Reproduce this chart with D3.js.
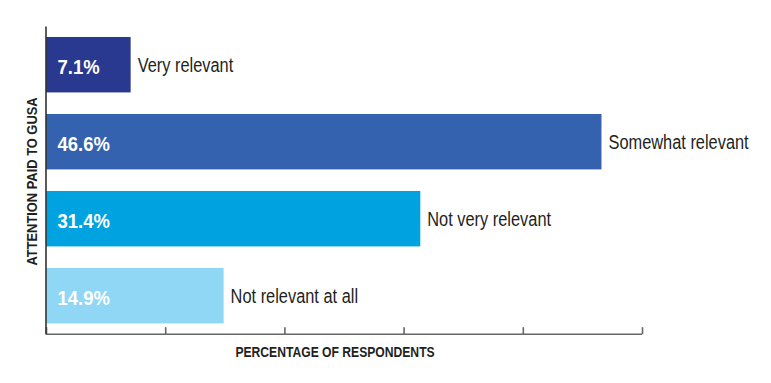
<!DOCTYPE html>
<html><head><meta charset="utf-8">
<script src="https://cdn.jsdelivr.net/npm/d3@7"></script>
<style>
html,body{margin:0;padding:0;background:#fff;}
svg{display:block;}
text{font-family:"Liberation Sans Narrow","Liberation Sans",Arial,sans-serif;}
</style></head>
<body>
<script>
const categories = ["Very relevant","Somewhat relevant","Not very relevant","Not relevant at all"];
const values = [7.1, 46.6, 31.4, 14.9];
const valueLabels = ["7.1%","46.6%","31.4%","14.9%"];
const colors = ["#2a3990","#3462ae","#00a3e0","#90d7f5"];
const xTicks = [0,10,20,30,40,50];
const xTitle = "PERCENTAGE OF RESPONDENTS";
const yTitle = "ATTENTION PAID TO GUSA";

const W = 771, H = 383;
const svg = d3.select("body").append("svg").attr("width",W).attr("height",H);

const axisY = 334.2;
const x = d3.scaleLinear().domain([0,50]).range([46,642]);
const y = d3.scaleBand().domain(categories).range([26.2,axisY]).paddingInner(0.28).paddingOuter(0.14);

// helper: condensed text via horizontal scale
function cond(sel, px, py, sx, rot) {
  sel.attr("x",0).attr("y",0)
     .attr("transform",`translate(${px},${py})${rot?` rotate(${rot})`:""} scale(${sx},1)`);
}

// bars
svg.selectAll("rect.bar").data(values).join("rect")
  .attr("class","bar")
  .attr("x", x(0))
  .attr("y",(d,i)=>y(categories[i]))
  .attr("width",d=>x(d)-x(0))
  .attr("height",y.bandwidth())
  .attr("fill",(d,i)=>colors[i]);

// value labels
svg.selectAll("text.val").data(values).join("text")
  .attr("class","val")
  .attr("fill","#fff")
  .attr("font-weight","bold")
  .attr("font-size",20.5)
  .attr("dy","0.45em")
  .text((d,i)=>valueLabels[i])
  .each(function(d,i){ cond(d3.select(this), x(0)+11.5, y(categories[i])+y.bandwidth()/2, 0.9); });

// category labels
svg.selectAll("text.cat").data(values).join("text")
  .attr("class","cat")
  .attr("fill","#231f20")
  .attr("font-size",21)
  .attr("dy","0.36em")
  .text((d,i)=>categories[i])
  .each(function(d,i){ cond(d3.select(this), x(d)+7, y(categories[i])+y.bandwidth()/2, 0.78); });

// x axis
const xAxis = d3.axisBottom(x).tickValues(xTicks).tickSize(-7).tickFormat("");
const gx = svg.append("g").attr("transform",`translate(0,${axisY})`).call(xAxis);
gx.select(".domain").attr("stroke","#666").attr("stroke-width",1.6).attr("d",`M${x(0)},0H${x(50)}`);
gx.selectAll(".tick line").attr("stroke","#666").attr("stroke-width",1.6);

// y axis line
const yAxis = d3.axisLeft(y).tickSize(0).tickFormat("");
const gy = svg.append("g").attr("transform",`translate(${x(0)},0)`).call(yAxis);
gy.select(".domain").attr("stroke","#333").attr("stroke-width",1.6).attr("d",`M0,26.5V${axisY}`);

// titles
svg.append("text")
  .attr("text-anchor","middle")
  .attr("font-weight","bold")
  .attr("font-size",15)
  .attr("fill","#231f20")
  .text(xTitle)
  .call(s=>cond(s, 335, 356.5, 0.81));

svg.append("text")
  .attr("text-anchor","middle")
  .attr("font-weight","bold")
  .attr("font-size",15)
  .attr("fill","#231f20")
  .text(yTitle)
  .call(s=>cond(s, 37, 181.5, 0.86, -90));
</script>
</body></html>
